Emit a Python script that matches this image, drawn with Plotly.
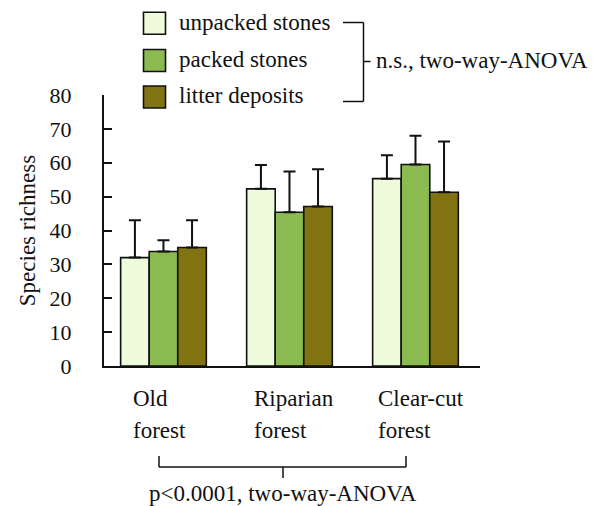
import plotly.graph_objects as go

categories = ["Old forest", "Riparian forest", "Clear-cut forest"]
cat_lines = [["Old", "forest"], ["Riparian", "forest"], ["Clear-cut", "forest"]]
series_names = ["unpacked stones", "packed stones", "litter deposits"]
unpacked = [32.0, 52.3, 55.3]
packed = [33.8, 45.4, 59.5]
litter = [35.0, 47.1, 51.3]
unpacked_err = [11.0, 7.0, 6.9]
packed_err = [3.3, 12.0, 8.5]
litter_err = [8.0, 11.0, 15.0]
y_ticks = [0, 10, 20, 30, 40, 50, 60, 70, 80]
colors = ["#EEFCDC", "#8BBB50", "#827312"]

OFF = 8  # page body margin
W, H = 612 - OFF, 506 - OFF
L, R, T, B = 104, 480, 95, 366  # plot area in page px

def px(x):
    return (x - L) / (R - L)

def py(y):
    return (B - y) / (B - T)

FONT = "Times New Roman"
FS = 23
TFS = 22
fig = go.Figure()
xs = [0, 1, 2]
for name, vals, errs, col in zip(series_names, [unpacked, packed, litter],
                                 [unpacked_err, packed_err, litter_err], colors):
    fig.add_trace(go.Bar(
        x=xs, y=vals, name=name, showlegend=False,
        marker=dict(color=col, line=dict(color="#111111", width=1.6)),
        error_y=dict(type="data", array=errs, symmetric=False,
                     arrayminus=[0] * len(errs), color="#111111",
                     thickness=2, width=6),
    ))

fig.update_layout(
    width=W, height=H,
    margin=dict(l=L - OFF, r=W + OFF - R, t=T - OFF, b=H + OFF - B, pad=0),
    paper_bgcolor="white", plot_bgcolor="white",
    barmode="group", bargap=0.32, bargroupgap=0,
    font=dict(family=FONT, size=FS, color="#111111"),
    xaxis=dict(range=[-0.472, 2.512], showline=True, linewidth=2,
               linecolor="#111111", showticklabels=False, ticks="",
               showgrid=False, zeroline=False, fixedrange=True),
    yaxis=dict(range=[0, 80], tickvals=y_ticks, showline=True, linewidth=2,
               linecolor="#111111", ticks="inside", ticklen=8, tickwidth=1.5,
               tickcolor="#111111", showgrid=False, zeroline=False,
               ticklabelstandoff=26,
               tickfont=dict(family=FONT, size=TFS),
               title=dict(text="Species richness", standoff=8,
                          font=dict(family=FONT, size=FS))),
)

annotations = []
shapes = []
# category labels
label_left = [131, 252, 376]
for lines, lx in zip(cat_lines, label_left):
    for i, ln in enumerate(lines):
        annotations.append(dict(text=ln, xref="paper", yref="paper",
                                x=px(lx), y=py(398 + 32 * i), xanchor="left",
                                yanchor="middle", showarrow=False,
                                font=dict(family=FONT, size=FS)))
# bottom bracket
line = dict(color="#111111", width=1.5)
for (x0, y0, x1, y1) in [(159, 456, 159, 467), (159, 467, 406, 467),
                         (406, 467, 406, 456), (283, 467, 283, 478)]:
    shapes.append(dict(type="line", xref="paper", yref="paper",
                       x0=px(x0), y0=py(y0), x1=px(x1), y1=py(y1), line=line))
annotations.append(dict(text="p<0.0001, two-way-ANOVA", xref="paper",
                        yref="paper", x=px(283), y=py(493), xanchor="center",
                        yanchor="middle", showarrow=False,
                        font=dict(family=FONT, size=FS)))
# legend
sw_cy = [23.3, 60.5, 97]
for name, col, cy in zip(series_names, colors, sw_cy):
    shapes.append(dict(type="rect", xref="paper", yref="paper",
                       x0=px(143.5), x1=px(165.5), y0=py(cy - 11), y1=py(cy + 11),
                       fillcolor=col, line=dict(color="#111111", width=1.6)))
    annotations.append(dict(text=name, xref="paper", yref="paper",
                            x=px(177), y=py(cy - 1), xanchor="left",
                            yanchor="middle", showarrow=False,
                            font=dict(family=FONT, size=FS)))
for (x0, y0, x1, y1) in [(343, 22.5, 363.5, 22.5), (363.5, 22.5, 363.5, 101.5),
                         (343, 101.5, 363.5, 101.5), (363.5, 61.5, 370.5, 61.5)]:
    shapes.append(dict(type="line", xref="paper", yref="paper",
                       x0=px(x0), y0=py(y0), x1=px(x1), y1=py(y1), line=line))
annotations.append(dict(text="n.s., two-way-ANOVA", xref="paper", yref="paper",
                        x=px(374), y=py(60.5), xanchor="left", yanchor="middle",
                        showarrow=False, font=dict(family=FONT, size=FS)))

fig.update_layout(annotations=annotations, shapes=shapes)
fig.write_html("out.html")
